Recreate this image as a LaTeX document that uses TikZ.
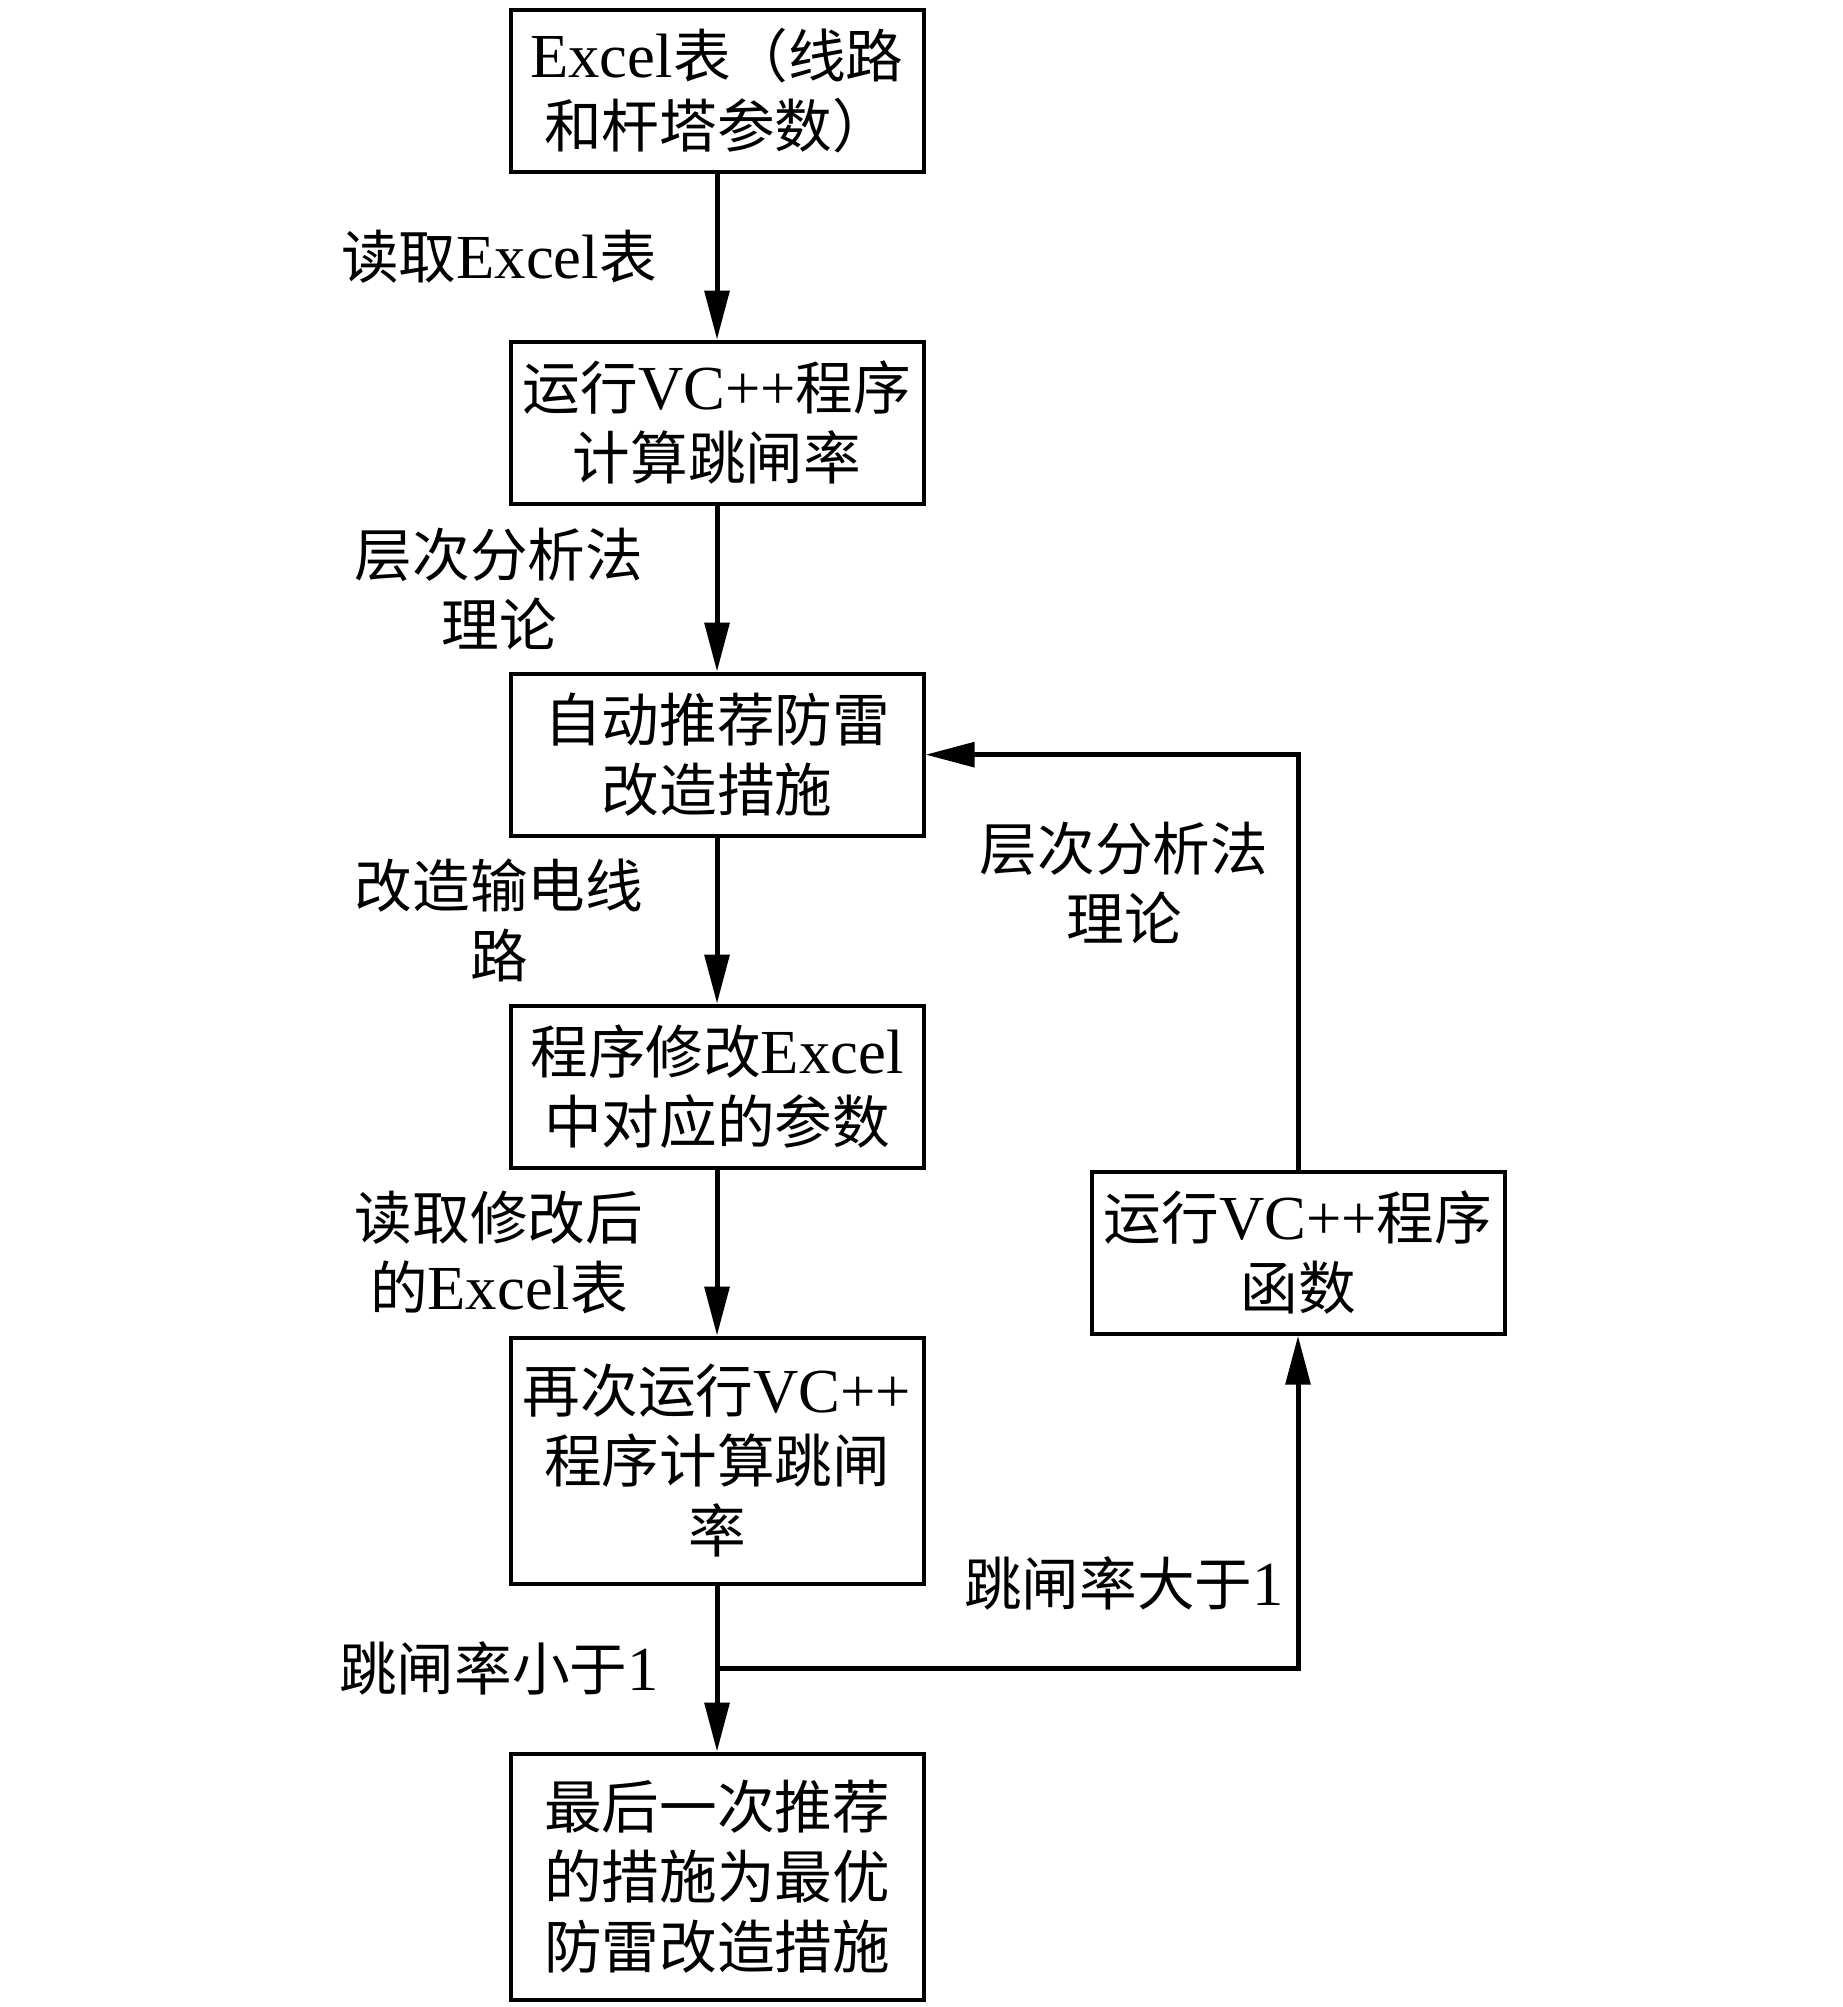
\documentclass[tikz,border=0pt]{standalone}
\usepackage{fontspec}
\setmainfont{Liberation Serif}
\newfontfamily\cjk{Noto Sans CJK SC}[Scale=0.92]
\newcommand{\zh}[1]{{\cjk #1}}
\usetikzlibrary{matrix,arrows.meta,positioning}

\begin{document}
\begin{tikzpicture}[
	font=\fontsize{18.8pt}{21pt}\selectfont,
	box/.style={draw, line width=1.2pt, text width=121.9pt, align=center, inner sep=1pt, minimum height=48.6pt},
	tall/.style={minimum height=73.8pt},
	>={Triangle[length=14.7pt,width=7.3pt]},
	link/.style={->, line width=1.5pt},
	lbl/.style={align=center, xshift=-65.4pt},
	rlbl/.style={align=center, xshift=-52.2pt}
]
\useasboundingbox (0,0) rectangle (552.9pt,-602.1pt);
\matrix (m) [matrix of nodes, row sep=49.8pt, nodes={box}, inner sep=0pt, anchor=north] at (215.1pt,-2.1pt)
{
	{Excel\zh{表（线路}\\\zh{和杆塔参数）}} \\
	{\zh{运行}VC++\zh{程序}\\\zh{计算跳闸率}} \\
	{\zh{自动推荐防雷}\\\zh{改造措施}} \\
	{\zh{程序修改}Excel\\\zh{中对应的参数}} \\
	|[tall]| {\zh{再次运行}VC++\\\zh{程序计算跳闸}\\\zh{率}} \\
	|[tall]| {\zh{最后一次推荐}\\\zh{的措施为最优}\\\zh{防雷改造措施}} \\
};
\node (vc) [box, below right=0pt and 49.2pt of m-4-1.south east] {\zh{运行}VC++\zh{程序}\\\zh{函数}};

\path[link]
(m-1-1) edge node [lbl] {\zh{读取}Excel\zh{表}} (m-2-1)
(m-2-1) edge node [lbl] {\zh{层次分析法}\\\zh{理论}} (m-3-1)
(m-3-1) edge node [lbl] {\zh{改造输电线}\\\zh{路}} (m-4-1)
(m-4-1) edge node [lbl] {\zh{读取修改后}\\\zh{的}Excel\zh{表}} (m-5-1)
;
\draw[link] (m-5-1) -- coordinate (split) node [lbl] {\zh{跳闸率小于}1} (m-6-1);
\draw[link] (split) -| node [pos=0.628, rlbl] {\zh{跳闸率大于}1} (vc);
\draw[link] (vc) |- node [pos=0.345, rlbl] {\zh{层次分析法}\\\zh{理论}} (m-3-1);
\end{tikzpicture}
\end{document}
